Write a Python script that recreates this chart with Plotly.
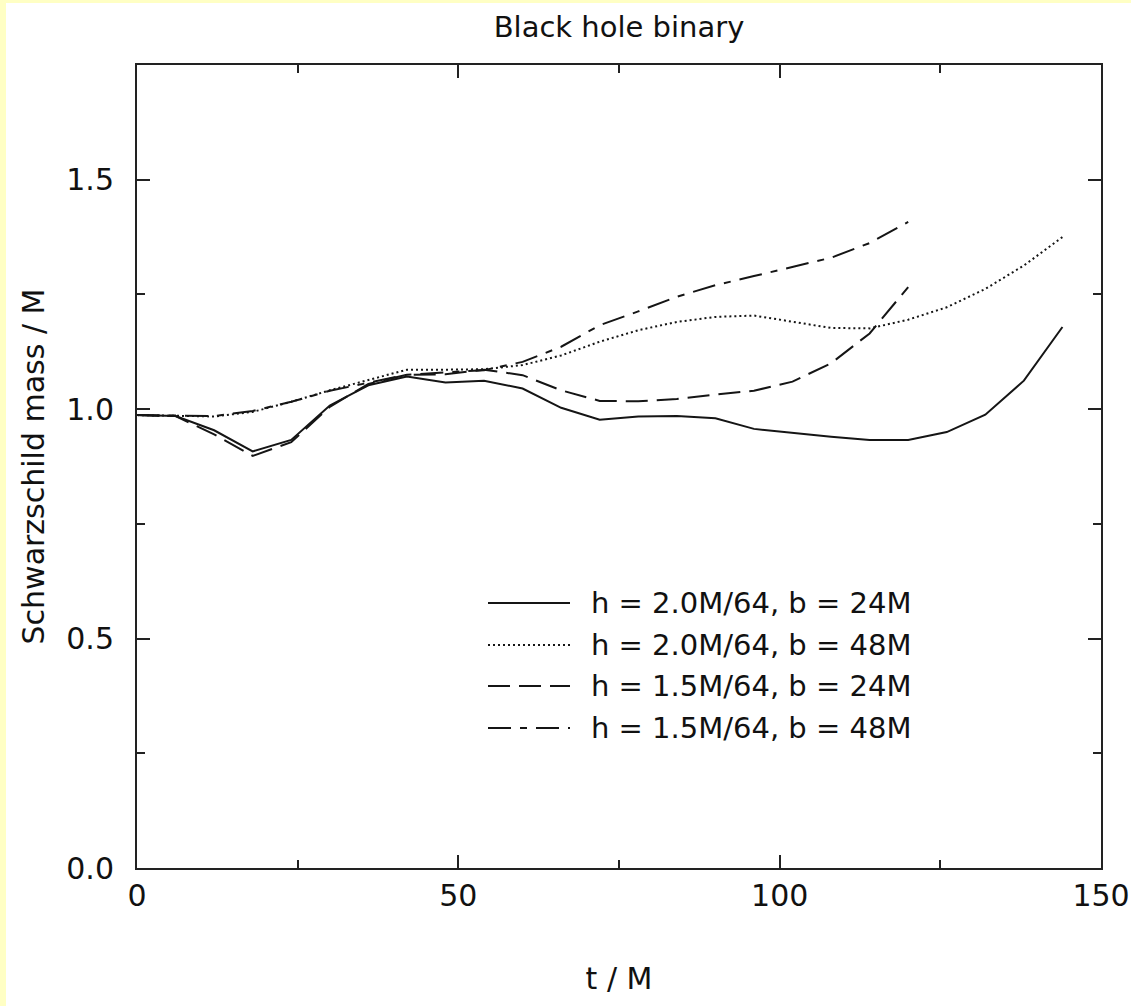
import plotly.graph_objects as go

# ---- data ----
t_long = [0, 6, 12, 18, 24, 30, 36, 42, 48, 54, 60, 66, 72, 78, 84, 90, 96,
          102, 108, 114, 120, 126, 132, 138, 144]
t_short = [0, 6, 12, 18, 24, 30, 36, 42, 48, 54, 60, 66, 72, 78, 84, 90, 96,
           102, 108, 114, 120]

m_h20_b24 = [0.987, 0.985, 0.954, 0.908, 0.933, 1.008, 1.052, 1.071, 1.058, 1.062,
             1.045, 1.003, 0.977, 0.984, 0.985, 0.980, 0.957, 0.948, 0.940, 0.933,
             0.933, 0.950, 0.988, 1.062, 1.179]
m_h20_b48 = [0.987, 0.986, 0.984, 0.994, 1.016, 1.041, 1.063, 1.086, 1.086, 1.087,
             1.096, 1.117, 1.147, 1.172, 1.190, 1.201, 1.204, 1.190, 1.177, 1.176,
             1.195, 1.222, 1.262, 1.313, 1.375]
m_h15_b24 = [0.987, 0.985, 0.945, 0.898, 0.928, 1.005, 1.055, 1.075, 1.076, 1.086,
             1.074, 1.041, 1.018, 1.017, 1.022, 1.032, 1.040, 1.060, 1.100, 1.165,
             1.266]
m_h15_b48 = [0.987, 0.986, 0.985, 0.996, 1.016, 1.040, 1.058, 1.075, 1.080, 1.085,
             1.103, 1.136, 1.183, 1.213, 1.245, 1.270, 1.290, 1.310, 1.330, 1.362,
             1.408]

series_labels = ["h = 2.0M/64, b = 24M", "h = 2.0M/64, b = 48M",
                 "h = 1.5M/64, b = 24M", "h = 1.5M/64, b = 48M"]
y_tickvals = [0.0, 0.5, 1.0, 1.5]
x_tickvals = [0, 50, 100, 150]

# ---- styling ----
FONT = "DejaVu Sans"
INK = "#151515"
dashes = ["solid", "2px,3px", "22px,9px", "23px,9px,7px,9px"]
xs = [t_long, t_long, t_short, t_short]
ys = [m_h20_b24, m_h20_b48, m_h15_b24, m_h15_b48]

W, H = 1131, 1006
L, R, T, B = 137, 30, 65, 138
pw, ph = W - L - R, H - T - B

fig = go.Figure()
for x, y, name, d in zip(xs, ys, series_labels, dashes):
    fig.add_trace(go.Scatter(x=x, y=y, mode="lines", name=name, showlegend=False,
                             line=dict(color=INK, width=2, dash=d)))

# custom legend (longer key lines, as in the reference)
row_py = [603, 645, 686, 728]
x0p, x1p, xtp = 488, 570, 589
shapes = []
annotations = []
for py, name, d in zip(row_py, series_labels, dashes):
    yp = (H - B - py) / ph
    shapes.append(dict(type="line", xref="paper", yref="paper",
                       x0=(x0p - L) / pw, x1=(x1p - L) / pw, y0=yp, y1=yp,
                       line=dict(color=INK, width=2, dash=d)))
    annotations.append(dict(xref="paper", yref="paper", x=(xtp - L) / pw, y=yp,
                            xanchor="left", yanchor="middle", showarrow=False,
                            text=name, font=dict(family=FONT, size=29, color="#111")))

# pale-yellow frame strips at left and top edge
YEL = "#ffffc4"
shapes.append(dict(type="rect", xref="paper", yref="paper", layer="above",
                   x0=(0 - L) / pw, x1=(6 - L) / pw,
                   y0=(H - B - H) / ph, y1=(H - B) / ph,
                   line=dict(width=0), fillcolor=YEL))
shapes.append(dict(type="rect", xref="paper", yref="paper", layer="above",
                   x0=(0 - L) / pw, x1=(W - L) / pw,
                   y0=(H - B - 3) / ph, y1=(H - B) / ph,
                   line=dict(width=0), fillcolor=YEL))

axis_common = dict(showgrid=False, zeroline=False, showline=True, linecolor="#222",
                   linewidth=2, mirror="ticks", ticks="inside", ticklen=13,
                   tickwidth=1.5, tickcolor="#222", automargin=False,
                   tickfont=dict(family=FONT, size=30, color="#111"))

fig.update_layout(
    width=W, height=H,
    margin=dict(l=L, r=R, t=T, b=B),
    paper_bgcolor="white", plot_bgcolor="white",
    title=dict(text="Black hole binary", x=(L + pw / 2) / W, xanchor="center",
               y=1 - 27 / H, yanchor="middle", yref="container",
               font=dict(family=FONT, size=29, color="#111")),
    xaxis=dict(range=[0, 150], tickvals=x_tickvals, ticklabelstandoff=0,
               minor=dict(dtick=25, ticks="inside", ticklen=8, tickwidth=1.5,
                          tickcolor="#222"),
               title=dict(text="t / M", standoff=56,
                          font=dict(family=FONT, size=30, color="#111")),
               **axis_common),
    yaxis=dict(range=[0, 1.75], tickvals=y_tickvals, tickformat=".1f",
               ticklabelstandoff=15,
               minor=dict(dtick=0.25, ticks="inside", ticklen=8, tickwidth=1.5,
                          tickcolor="#222"),
               title=dict(text="Schwarzschild mass / M", standoff=13,
                          font=dict(family=FONT, size=30, color="#111")),
               **axis_common),
    shapes=shapes,
    annotations=annotations,
)

fig.write_html("out.html", config={"displayModeBar": False},
               post_script="document.body.style.margin='0';"
                           "document.body.style.overflow='hidden';")
